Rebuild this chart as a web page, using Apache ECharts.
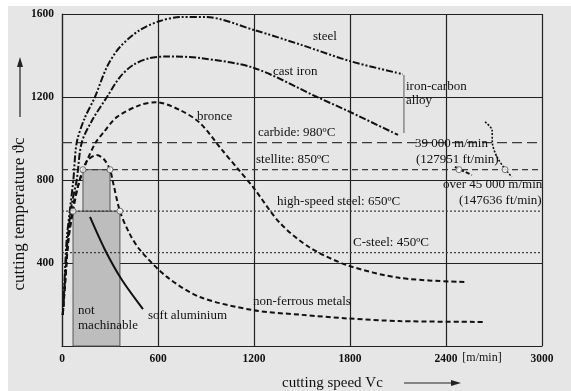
<!DOCTYPE html>
<html>
<head>
<meta charset="utf-8">
<script src="https://cdn.jsdelivr.net/npm/echarts/dist/echarts.min.js"></script>
<style>
html, body { margin: 0; padding: 0; background: #fff; }
#chart { width: 571px; height: 391px; }
</style>
</head>
<body>
<div id="chart"></div>
<script>
// cutting speed [m/min] vs cutting temperature [°C]
const xTicks = [0, 600, 1200, 1800, 2400, 3000];
const yTicks = [0, 400, 800, 1200, 1600];

const steel = [[5,150],[15,300],[29,511],[50,660],[71,800],[92,980],[140,1095],[206,1200],[281,1345],[362,1441],[487,1523],[612,1566],[737,1585],[900,1585],[1200,1523],[1500,1450],[1800,1373],[2130,1310]];
const castIron = [[5,150],[17,300],[35,511],[60,680],[92,800],[123,980],[190,1090],[281,1200],[362,1296],[444,1354],[550,1388],[650,1395],[862,1388],[1200,1340],[1594,1200],[1800,1128],[2100,1017]];
const bronce = [[5,150],[18,300],[40,511],[70,680],[112,800],[160,900],[210,980],[260,1030],[344,1104],[487,1161],[590,1175],[737,1137],[862,1075],[1000,945],[1100,853],[1194,766],[1362,593],[1544,477],[1781,390],[2112,328],[2530,308]];
const nonFerrous = [[5,150],[20,300],[40,511],[69,650],[100,770],[131,850],[160,896],[217,920],[262,900],[300,850],[320,785],[362,650],[420,545],[487,463],[656,333],[862,236],[1194,173],[1500,150],[1781,133],[2112,120],[2631,116]];
const softAlu = [[175,622],[269,463],[375,318],[506,178]];
const over45000 = [[2644,1080],[2688,1040],[2690,978],[2719,911],[2769,853],[2812,815]];
const at39000 = [[2456,863],[2481,853],[2562,824]];
const ironCarbon = [[2137,1306],[2137,1027]];
const circles = [[131,850],[300,850],[69,650],[362,650],[2481,850],[2769,850]];
// not machinable boxes: [x0, y0, x1, y1]
const boxes = [[69,0,362,650],[131,650,300,850]];
// tool material limits
const limits = { carbide: 980, stellite: 850, hss: 650, cSteel: 450 };

const FONT = 'Liberation Serif';
const INK = '#111';

const chart = echarts.init(document.getElementById('chart'));

const curve = (data, type, width) => ({
    type: 'line', data, smooth: 0.3, symbol: 'none', silent: true, z: 4,
    lineStyle: { color: '#111', width, type }
});
const limit = (v, type, width) => ({
    type: 'line', data: [[xTicks[0], v], [xTicks[xTicks.length - 1], v]],
    symbol: 'none', silent: true, z: 3,
    lineStyle: { color: '#3a3a3a', width, type }
});
const txt = (text, x, y, size, align) => ({
    type: 'text', x, y, z: 10,
    style: {
        text, font: (size || 13) + 'px "' + FONT + '"', fill: INK,
        textAlign: align || 'left', textVerticalAlign: 'middle'
    }
});

chart.setOption({
    animation: false,
    grid: { left: 62, right: 29, top: 14, bottom: 45 },
    xAxis: {
        type: 'value', min: 0, max: 3000, interval: 600,
        axisLine: { show: true, lineStyle: { color: '#222', width: 1.2 } },
        axisTick: { show: false },
        axisLabel: { color: INK, fontFamily: FONT, fontSize: 11.5, fontWeight: 'bold', margin: 7,
            formatter: v => String(v) },
        splitLine: { show: true, lineStyle: { color: '#222', width: 1.2 } }
    },
    yAxis: {
        type: 'value', min: 0, max: 1600, interval: 400,
        axisLine: { show: true, lineStyle: { color: '#222', width: 1.2 } },
        axisTick: { show: false },
        axisLabel: { color: INK, fontFamily: FONT, fontSize: 11.5, fontWeight: 'bold', margin: 8,
            formatter: v => v === 0 ? '' : String(v) },
        splitLine: { show: true, lineStyle: { color: '#222', width: 1.2 } }
    },
    graphic: [
        { type: 'rect', x: 8, y: 6, z: -100, shape: { width: 563, height: 385 }, style: { fill: '#e6e6e6' } },
        txt('steel', 313, 37),
        txt('cast iron', 273, 72),
        txt('bronce', 197, 117),
        txt('iron-carbon', 406, 87),
        txt('alloy', 406, 101),
        txt('carbide: 980ºC', 258, 133),
        txt('stellite: 850ºC', 256, 160),
        txt('39 000 m/min', 415, 144),
        txt('(127951 ft/min)', 416, 160),
        txt('over 45 000 m/min', 443, 185),
        txt('(147636 ft/min)', 459, 201),
        txt('high-speed steel: 650ºC', 277, 202),
        txt('C-steel: 450ºC', 353, 243),
        txt('non-ferrous metals', 253, 302),
        txt('soft aluminium', 148, 316),
        txt('not', 78, 311),
        txt('machinable', 78, 326),
        txt('[m/min]', 482, 358, 12, 'center'),
        txt('cutting speed Vc', 282, 383, 15),
        {
            type: 'text', x: 20, y: 214, rotation: Math.PI / 2, z: 10,
            style: { text: 'cutting temperature ϑc', font: '17px "' + FONT + '"', fill: INK,
                textAlign: 'center', textVerticalAlign: 'middle' }
        },
        { type: 'line', z: 10, shape: { x1: 20, y1: 117, x2: 20, y2: 64 }, style: { stroke: '#222', lineWidth: 1.2 } },
        { type: 'polygon', z: 10, shape: { points: [[20, 57], [17, 67], [23, 67]] }, style: { fill: '#222' } },
        { type: 'line', z: 10, shape: { x1: 404, y1: 383, x2: 453, y2: 383 }, style: { stroke: '#222', lineWidth: 1.2 } },
        { type: 'polygon', z: 10, shape: { points: [[461, 383], [451, 380], [451, 386]] }, style: { fill: '#222' } }
    ],
    series: [
        {
            type: 'line', data: [], silent: true, z: 1,
            markArea: {
                silent: true,
                itemStyle: { color: '#bdbdbd', borderColor: '#555', borderWidth: 1 },
                data: boxes.map(b => [{ coord: [b[0], b[1]] }, { coord: [b[2], b[3]] }])
            }
        },
        limit(limits.carbide, [10, 5], 1.2),
        limit(limits.stellite, [6, 4], 1.2),
        limit(limits.hss, [2, 2], 1.2),
        limit(limits.cSteel, [2, 2], 1.2),
        curve(steel, [7, 2, 2, 2, 2, 2], 2),
        curve(castIron, [7, 2, 2, 2], 2),
        curve(bronce, [5, 3], 2),
        curve(nonFerrous, [5, 3], 2),
        curve(softAlu, 'solid', 2),
        curve(over45000, [2, 1.5], 1.6),
        curve(at39000, [4, 2], 2),
        {
            type: 'line', data: ironCarbon, symbol: 'none', silent: true, z: 3,
            lineStyle: { color: '#888', width: 1.5 }
        },
        {
            type: 'scatter', data: circles, symbol: 'circle', symbolSize: 6, silent: true, z: 6,
            itemStyle: { color: '#fff', borderColor: '#555', borderWidth: 1 }
        }
    ]
});
</script>
</body>
</html>
